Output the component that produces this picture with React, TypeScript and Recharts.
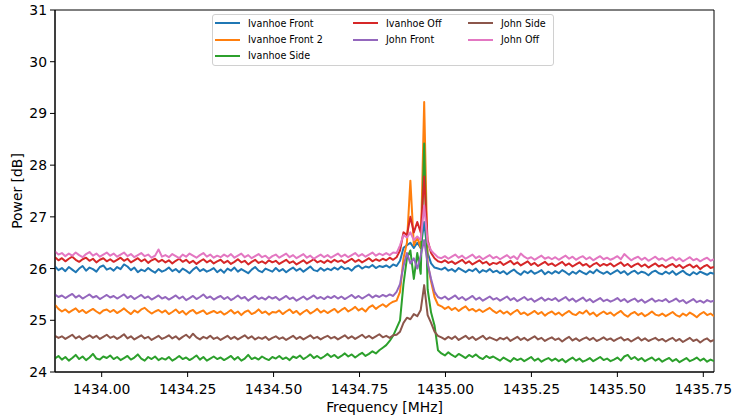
import { LineChart, Line, XAxis, YAxis, ReferenceArea, Label } from 'recharts'

// spectrum bins: first / last frequency of the sweep and the number of bins
const FREQ_MIN = 1433.8642
const FREQ_MAX = 1435.7811
const BIN_COUNT = 192

const X_TICKS = [1434.0, 1434.25, 1434.5, 1434.75, 1435.0, 1435.25, 1435.5, 1435.75]
const Y_TICKS = [24, 25, 26, 27, 28, 29, 30, 31]

const ivanhoeFront = [
  26.04, 25.97, 26.01, 25.95, 26.03, 25.98, 25.93, 26.0, 26.05, 25.96, 26.02, 25.99, 25.94, 26.03, 26.06, 25.98,
  26.01, 25.96, 26.03, 25.99, 26.08, 26.04, 25.97, 26.02, 25.93, 25.98, 25.95, 26.01, 25.96, 25.92, 25.99, 25.94,
  25.97, 26.02, 25.95, 25.99, 25.93, 26.0, 25.96, 25.91, 25.98, 26.03, 25.95, 25.99, 25.94, 25.97, 26.01, 25.93,
  25.98, 25.92, 26.0, 25.96, 26.02, 25.94, 25.99, 25.95, 25.91, 25.98, 26.03, 25.96, 25.93, 26.0, 25.97, 25.94,
  26.01, 25.95, 25.99, 25.93, 25.98, 26.02, 25.96, 26.0, 25.94, 25.99, 26.04, 25.97, 25.95, 26.01, 25.96, 26.0,
  25.97, 26.02, 25.98, 26.04, 25.99, 26.01, 25.96, 26.03, 26.06, 26.0, 26.04, 26.02, 26.07, 26.01, 26.05, 26.03,
  26.06, 26.02, 26.08, 26.05, 26.15, 26.4, 26.45, 26.5, 26.4, 26.5, 26.4, 26.9, 26.3, 26.1, 26.02, 26.0,
  25.98, 26.02, 25.96, 25.99, 25.94, 26.01, 25.97, 25.93, 25.98, 25.95, 26.0, 25.92, 25.97, 25.94, 25.99, 25.93,
  25.96, 25.91, 25.95, 25.89, 25.94, 25.98, 25.92, 25.88, 25.95, 25.91, 25.96, 25.9, 25.93, 25.97, 25.89, 25.94,
  25.9, 25.95, 25.91, 25.97, 25.93, 25.88, 25.94, 25.9, 25.96, 25.92, 25.89, 25.95, 25.91, 25.98, 25.93, 25.9,
  25.94, 25.89, 25.93, 25.97, 25.91, 25.95, 25.88, 25.93, 25.96, 25.9, 25.94, 25.92, 25.87, 25.93, 25.96, 25.91,
  25.89, 25.94, 25.9, 25.95, 25.88, 25.92, 25.96, 25.9, 25.87, 25.93, 25.89, 25.94, 25.91, 25.88, 25.92, 25.9,
]

const ivanhoeFront2 = [
  25.3, 25.22, 25.17, 25.21, 25.15, 25.19, 25.23, 25.16, 25.2, 25.14, 25.18, 25.22, 25.17, 25.13, 25.19, 25.21,
  25.16, 25.2, 25.14, 25.18, 25.23, 25.17, 25.12, 25.19, 25.15, 25.21, 25.24, 25.18, 25.13, 25.17, 25.2, 25.15,
  25.19, 25.12, 25.16, 25.21, 25.14, 25.18, 25.11, 25.17, 25.2, 25.13, 25.16, 25.19, 25.12, 25.15, 25.18, 25.14,
  25.17, 25.11, 25.15, 25.2, 25.13, 25.17, 25.1, 25.16, 25.19, 25.12, 25.15, 25.21, 25.14, 25.17, 25.11, 25.16,
  25.15, 25.19, 25.12, 25.17, 25.21, 25.14, 25.18, 25.11, 25.16, 25.2, 25.13, 25.17, 25.22, 25.15, 25.19, 25.14,
  25.18, 25.22, 25.15, 25.2, 25.24, 25.17, 25.21, 25.26, 25.19, 25.23, 25.17, 25.25, 25.29, 25.22, 25.27, 25.31,
  25.26, 25.32, 25.36, 25.38, 25.55, 26.2, 26.5, 27.7, 26.45, 26.6, 26.4, 29.22, 26.1, 25.75, 25.45, 25.3,
  25.27, 25.22, 25.26, 25.2, 25.24, 25.18, 25.23, 25.27, 25.19, 25.22, 25.17, 25.21, 25.16, 25.2, 25.24, 25.18,
  25.14, 25.19, 25.13, 25.17, 25.11, 25.16, 25.2, 25.12, 25.15, 25.1, 25.14, 25.18, 25.12, 25.16, 25.09, 25.14,
  25.17, 25.11, 25.15, 25.09, 25.14, 25.18, 25.12, 25.1, 25.16, 25.13, 25.19, 25.11, 25.15, 25.08, 25.13, 25.17,
  25.12, 25.15, 25.09, 25.14, 25.18, 25.11, 25.07, 25.13, 25.16, 25.1, 25.14, 25.08, 25.12, 25.17, 25.11, 25.09,
  25.13, 25.08, 25.12, 25.16, 25.1, 25.07, 25.13, 25.09, 25.15, 25.11, 25.06, 25.12, 25.16, 25.1, 25.13, 25.08,
]

const ivanhoeSide = [
  24.26, 24.31, 24.24, 24.29, 24.22, 24.27, 24.33, 24.25, 24.3, 24.23, 24.28, 24.35, 24.26, 24.24, 24.3, 24.27,
  24.32, 24.25, 24.29, 24.23, 24.27, 24.31, 24.24, 24.28, 24.34, 24.26, 24.22, 24.29, 24.25, 24.3, 24.23, 24.27,
  24.24, 24.29, 24.22, 24.26, 24.31, 24.25, 24.28, 24.23, 24.27, 24.32, 24.24, 24.29, 24.22, 24.26, 24.3, 24.25,
  24.28, 24.23, 24.27, 24.31, 24.24, 24.29, 24.22, 24.26, 24.33, 24.25, 24.28, 24.24, 24.3, 24.26, 24.23, 24.29,
  24.26, 24.31, 24.25, 24.28, 24.23, 24.3, 24.27, 24.32, 24.25, 24.29, 24.34, 24.27, 24.31, 24.26, 24.3, 24.35,
  24.29, 24.33, 24.27, 24.31, 24.36, 24.3, 24.34, 24.28, 24.33, 24.37, 24.31, 24.35, 24.4, 24.36, 24.42, 24.47,
  24.52, 24.6, 24.7, 24.85, 25.0, 25.7, 26.2, 26.35, 25.8, 26.3, 25.9, 28.42, 25.6, 25.15, 24.9, 24.42,
  24.36, 24.32, 24.38, 24.33, 24.29, 24.35, 24.31, 24.27, 24.33, 24.29, 24.34, 24.28, 24.25, 24.31, 24.27, 24.3,
  24.26, 24.22, 24.28, 24.24, 24.2, 24.27, 24.23, 24.26, 24.21, 24.25, 24.29, 24.22, 24.26, 24.2, 24.24, 24.27,
  24.22, 24.26, 24.21, 24.25, 24.19, 24.24, 24.28, 24.22, 24.26, 24.2, 24.23, 24.27, 24.21, 24.25, 24.29, 24.23,
  24.26, 24.21, 24.24, 24.28, 24.22, 24.3, 24.33, 24.25, 24.29, 24.23, 24.27, 24.21, 24.25, 24.28, 24.22, 24.26,
  24.2, 24.24, 24.27, 24.21, 24.25, 24.19, 24.23, 24.27, 24.21, 24.24, 24.28, 24.22, 24.26, 24.2, 24.24, 24.21,
]

const ivanhoeOff = [
  26.22, 26.16, 26.2, 26.14, 26.19, 26.23, 26.17, 26.13, 26.18, 26.21, 26.15, 26.19, 26.12, 26.17, 26.2, 26.14,
  26.18, 26.13, 26.17, 26.21, 26.15, 26.19, 26.12, 26.16, 26.2, 26.14, 26.18, 26.11, 26.16, 26.19, 26.13, 26.17,
  26.12, 26.16, 26.1, 26.15, 26.19, 26.13, 26.17, 26.11, 26.15, 26.09, 26.14, 26.18, 26.12, 26.16, 26.1, 26.14,
  26.17, 26.11, 26.15, 26.09, 26.13, 26.18, 26.12, 26.15, 26.08, 26.13, 26.17, 26.11, 26.14, 26.1, 26.16, 26.12,
  26.15, 26.09, 26.13, 26.17, 26.11, 26.14, 26.08, 26.12, 26.16, 26.1, 26.14, 26.18, 26.12, 26.15, 26.11, 26.16,
  26.12, 26.17, 26.13, 26.16, 26.11, 26.15, 26.19, 26.13, 26.17, 26.12, 26.16, 26.2, 26.14, 26.18, 26.15, 26.19,
  26.16, 26.21, 26.17, 26.22, 26.35, 26.7, 26.65, 27.0, 26.7, 26.9, 26.7, 27.78, 26.55, 26.3, 26.2, 26.14,
  26.12, 26.16, 26.11, 26.14, 26.09, 26.13, 26.17, 26.1, 26.14, 26.08, 26.12, 26.16, 26.1, 26.13, 26.07, 26.11,
  26.09, 26.13, 26.07, 26.11, 26.15, 26.08, 26.12, 26.06, 26.1, 26.14, 26.07, 26.11, 26.05, 26.09, 26.13, 26.07,
  26.1, 26.05, 26.09, 26.13, 26.06, 26.1, 26.04, 26.08, 26.12, 26.06, 26.09, 26.03, 26.08, 26.11, 26.05, 26.09,
  26.06, 26.1, 26.04, 26.08, 26.12, 26.05, 26.09, 26.03, 26.07, 26.1, 26.04, 26.08, 26.02, 26.06, 26.1, 26.04,
  26.07, 26.02, 26.06, 26.09, 26.03, 26.07, 26.01, 26.05, 26.08, 26.02, 26.06, 25.99, 26.04, 26.07, 26.01, 26.03,
]

const johnFront = [
  25.5, 25.45, 25.48, 25.43, 25.47, 25.51, 25.44, 25.48, 25.42, 25.46, 25.5, 25.44, 25.47, 25.41, 25.45, 25.49,
  25.44, 25.47, 25.42, 25.46, 25.5, 25.43, 25.47, 25.41, 25.45, 25.49, 25.43, 25.46, 25.4, 25.44, 25.48, 25.42,
  25.45, 25.4, 25.44, 25.48, 25.42, 25.46, 25.39, 25.43, 25.47, 25.41, 25.45, 25.5, 25.43, 25.46, 25.4, 25.44,
  25.47, 25.41, 25.45, 25.39, 25.43, 25.48, 25.42, 25.45, 25.38, 25.43, 25.47, 25.41, 25.44, 25.4, 25.46, 25.42,
  25.45, 25.39, 25.43, 25.47, 25.41, 25.44, 25.38, 25.42, 25.46, 25.4, 25.44, 25.48, 25.42, 25.45, 25.41, 25.46,
  25.43, 25.47, 25.42, 25.46, 25.41, 25.45, 25.49, 25.43, 25.47, 25.42, 25.46, 25.5, 25.44, 25.48, 25.45, 25.49,
  25.46, 25.5, 25.47, 25.55, 25.7, 26.05, 26.3, 26.1, 26.2, 26.0, 26.25, 26.55, 26.1, 25.8, 25.55, 25.45,
  25.42, 25.46, 25.4, 25.44, 25.48, 25.41, 25.45, 25.39, 25.43, 25.47, 25.4, 25.44, 25.38, 25.42, 25.46, 25.4,
  25.43, 25.38, 25.42, 25.46, 25.39, 25.43, 25.37, 25.41, 25.45, 25.39, 25.42, 25.36, 25.4, 25.44, 25.38, 25.42,
  25.39, 25.43, 25.37, 25.41, 25.45, 25.38, 25.42, 25.36, 25.4, 25.44, 25.37, 25.41, 25.35, 25.39, 25.43, 25.37,
  25.4, 25.36, 25.39, 25.43, 25.37, 25.41, 25.35, 25.39, 25.42, 25.36, 25.4, 25.34, 25.38, 25.42, 25.36, 25.39,
  25.37, 25.41, 25.35, 25.38, 25.42, 25.36, 25.39, 25.33, 25.37, 25.41, 25.35, 25.38, 25.34, 25.39, 25.36, 25.38,
]

const johnSide = [
  24.7, 24.66, 24.69, 24.64, 24.68, 24.72, 24.65, 24.69, 24.63, 24.67, 24.71, 24.66, 24.7, 24.64, 24.68, 24.72,
  24.66, 24.69, 24.64, 24.68, 24.73, 24.65, 24.69, 24.63, 24.67, 24.71, 24.65, 24.68, 24.62, 24.66, 24.7, 24.64,
  24.67, 24.71, 24.65, 24.69, 24.63, 24.68, 24.72, 24.66, 24.74, 24.67, 24.63, 24.68, 24.65, 24.7, 24.64, 24.67,
  24.62, 24.66, 24.7, 24.64, 24.68, 24.63, 24.67, 24.71, 24.65, 24.69, 24.63, 24.67, 24.64, 24.68, 24.62, 24.66,
  24.69, 24.64, 24.67, 24.62, 24.66, 24.7, 24.64, 24.68, 24.63, 24.67, 24.71, 24.65, 24.68, 24.63, 24.67, 24.7,
  24.65, 24.68, 24.63, 24.67, 24.71, 24.65, 24.69, 24.64, 24.68, 24.72, 24.66, 24.7, 24.65, 24.69, 24.73, 24.67,
  24.7, 24.66, 24.71, 24.72, 24.78, 24.95, 25.05, 25.02, 25.12, 25.08, 25.2, 25.68, 25.1, 24.95, 24.78, 24.7,
  24.67, 24.63, 24.68, 24.64, 24.69, 24.62, 24.66, 24.7, 24.64, 24.68, 24.62, 24.66, 24.7, 24.63, 24.67, 24.64,
  24.61, 24.66, 24.63, 24.67, 24.6, 24.64, 24.68, 24.62, 24.66, 24.61, 24.65, 24.69, 24.63, 24.66, 24.6, 24.64,
  24.67, 24.62, 24.65, 24.59, 24.64, 24.68, 24.61, 24.65, 24.6, 24.64, 24.67, 24.62, 24.66, 24.6, 24.63, 24.67,
  24.62, 24.65, 24.6, 24.64, 24.67, 24.61, 24.64, 24.59, 24.63, 24.67, 24.61, 24.65, 24.6, 24.63, 24.66, 24.61,
  24.64, 24.59, 24.63, 24.66, 24.6, 24.64, 24.58, 24.62, 24.66, 24.6, 24.63, 24.57, 24.62, 24.65, 24.59, 24.62,
]

const johnOff = [
  26.33, 26.27, 26.3, 26.24, 26.29, 26.25, 26.31, 26.26, 26.22, 26.28, 26.32, 26.25, 26.29, 26.23, 26.27, 26.31,
  26.25, 26.29, 26.23, 26.27, 26.31, 26.24, 26.28, 26.22, 26.26, 26.3, 26.24, 26.27, 26.21, 26.25, 26.37, 26.23,
  26.26, 26.22, 26.28, 26.24, 26.2, 26.27, 26.23, 26.29, 26.25, 26.21, 26.26, 26.3, 26.23, 26.27, 26.21, 26.25,
  26.22, 26.27, 26.23, 26.28, 26.21, 26.25, 26.29, 26.22, 26.26, 26.2, 26.24, 26.28, 26.22, 26.25, 26.19, 26.24,
  26.27, 26.21, 26.25, 26.29, 26.22, 26.26, 26.2, 26.24, 26.28, 26.21, 26.25, 26.19, 26.23, 26.27, 26.22, 26.26,
  26.21, 26.25, 26.29, 26.23, 26.27, 26.22, 26.26, 26.3, 26.24, 26.28, 26.23, 26.27, 26.31, 26.25, 26.29, 26.26,
  26.3, 26.26, 26.31, 26.3, 26.45, 26.65, 26.6, 26.7, 26.55, 26.62, 26.55, 27.22, 26.5, 26.35, 26.28, 26.22,
  26.2, 26.24, 26.19, 26.23, 26.27, 26.21, 26.25, 26.19, 26.23, 26.27, 26.2, 26.24, 26.18, 26.22, 26.26, 26.2,
  26.23, 26.18, 26.22, 26.26, 26.2, 26.24, 26.18, 26.29, 26.23, 26.19, 26.22, 26.17, 26.21, 26.25, 26.19, 26.22,
  26.18, 26.22, 26.17, 26.21, 26.25, 26.19, 26.23, 26.17, 26.21, 26.24, 26.18, 26.22, 26.16, 26.2, 26.24, 26.18,
  26.21, 26.17, 26.2, 26.24, 26.18, 26.28, 26.22, 26.16, 26.2, 26.23, 26.17, 26.21, 26.15, 26.19, 26.23, 26.17,
  26.2, 26.15, 26.19, 26.22, 26.16, 26.2, 26.14, 26.18, 26.22, 26.16, 26.19, 26.14, 26.18, 26.21, 26.15, 26.18,
]

const SERIES = [
  { key: 'ivanhoeFront', name: 'Ivanhoe Front', color: '#1f77b4', values: ivanhoeFront },
  { key: 'ivanhoeFront2', name: 'Ivanhoe Front 2', color: '#ff7f0e', values: ivanhoeFront2 },
  { key: 'ivanhoeSide', name: 'Ivanhoe Side', color: '#2ca02c', values: ivanhoeSide },
  { key: 'ivanhoeOff', name: 'Ivanhoe Off', color: '#d62728', values: ivanhoeOff },
  { key: 'johnFront', name: 'John Front', color: '#9467bd', values: johnFront },
  { key: 'johnSide', name: 'John Side', color: '#8c564b', values: johnSide },
  { key: 'johnOff', name: 'John Off', color: '#e377c2', values: johnOff },
]

const freqs = Array.from({ length: BIN_COUNT }, (_, i) => FREQ_MIN + (i * (FREQ_MAX - FREQ_MIN)) / (BIN_COUNT - 1))

const rows = freqs.map((f, i) => {
  const row: Record<string, number> = { f }
  SERIES.forEach((s) => {
    row[s.key] = s.values[i]
  })
  return row
})

const FONT = '"DejaVu Sans", sans-serif'

// matplotlib style legend, 3 columns filled top to bottom (3, 2, 2)
const LEGEND_COL_X = [215, 353, 468]
const LEGEND_ROW_Y = [23, 39.5, 55.5]

function legendSlot(i: number) {
  if (i < 3) return { col: 0, row: i }
  if (i < 5) return { col: 1, row: i - 3 }
  return { col: 2, row: i - 5 }
}

function SpectrumLegend() {
  return (
    <>
      <div
        style={{
          position: 'absolute',
          left: 212,
          top: 14,
          width: 342,
          height: 52,
          border: '1px solid #d0d0d0',
          borderRadius: 3,
          background: 'rgba(255,255,255,0.8)',
          boxSizing: 'border-box',
        }}
      />
      {SERIES.map((s, i) => {
        const { col, row } = legendSlot(i)
        return (
          <div
            key={s.key}
            style={{
              position: 'absolute',
              left: LEGEND_COL_X[col],
              top: LEGEND_ROW_Y[row] - 7,
              height: 14,
              display: 'flex',
              alignItems: 'center',
              fontFamily: FONT,
              fontSize: 9.6,
              color: '#000',
              whiteSpace: 'nowrap',
            }}
          >
            <span style={{ display: 'inline-block', width: 25, height: 2, background: s.color, marginRight: 8 }} />
            {s.name}
          </div>
        )
      })}
    </>
  )
}

export default function App() {
  return (
    <div style={{ position: 'absolute', left: 0, top: 0, width: 732, height: 420, background: '#fff' }}>
      <LineChart width={732} height={420} data={rows} margin={{ top: 10, right: 18, bottom: 0, left: 15 }}>
        <XAxis
          dataKey="f"
          type="number"
          domain={[FREQ_MIN, FREQ_MAX]}
          allowDataOverflow
          ticks={X_TICKS}
          tickFormatter={(v: number) => v.toFixed(2)}
          height={48}
          tickSize={5}
          tickMargin={7}
          axisLine={{ stroke: '#000' }}
          tickLine={{ stroke: '#000' }}
          tick={{ fill: '#000', fontSize: 13.9, fontFamily: FONT }}
        >
          <Label
            value="Frequency [MHz]"
            position="insideBottom"
            offset={8}
            style={{ fill: '#000', fontSize: 13.9, fontFamily: FONT }}
          />
        </XAxis>
        <YAxis
          type="number"
          domain={[24, 31]}
          allowDataOverflow
          ticks={Y_TICKS}
          width={40}
          tickSize={5}
          tickMargin={3}
          axisLine={{ stroke: '#000' }}
          tickLine={{ stroke: '#000' }}
          tick={{ fill: '#000', fontSize: 13.9, fontFamily: FONT }}
        >
          <Label
            value="Power [dB]"
            angle={-90}
            position="insideLeft"
            offset={2.5}
            style={{ fill: '#000', fontSize: 13.9, fontFamily: FONT, textAnchor: 'middle' }}
          />
        </YAxis>
        {SERIES.map((s) => (
          <Line
            key={s.key}
            dataKey={s.key}
            name={s.name}
            type="linear"
            stroke={s.color}
            strokeWidth={2}
            strokeLinejoin="round"
            dot={false}
            activeDot={false}
            isAnimationActive={false}
          />
        ))}
        <ReferenceArea
          x1={FREQ_MIN}
          x2={FREQ_MAX}
          y1={24}
          y2={31}
          fill="none"
          stroke="#000"
          strokeWidth={1}
          fillOpacity={0}
          ifOverflow="visible"
        />
      </LineChart>
      <SpectrumLegend />
    </div>
  )
}
